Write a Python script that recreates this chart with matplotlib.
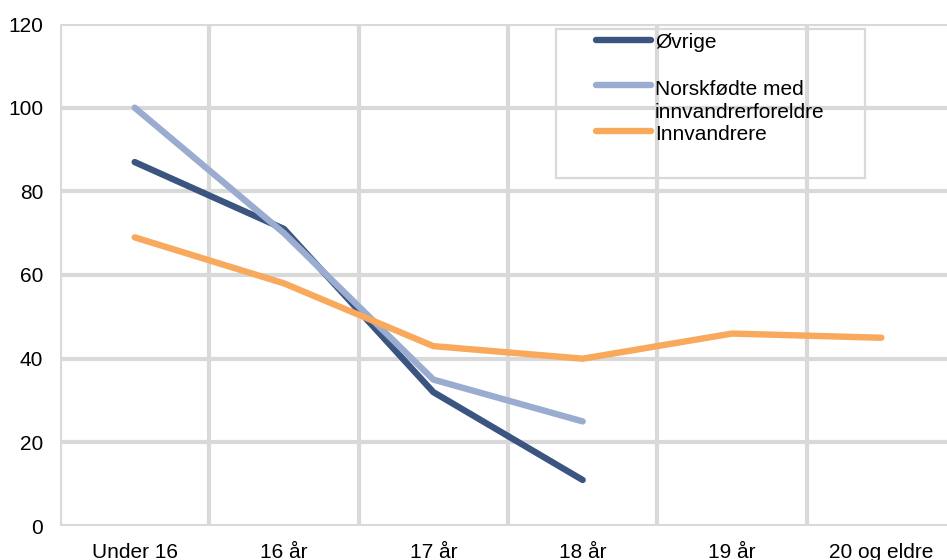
import matplotlib
matplotlib.use("Agg")
import matplotlib.pyplot as plt
from matplotlib.lines import Line2D
from matplotlib.patches import Rectangle

plt.rcParams['font.family'] = ['Liberation Sans', 'DejaVu Sans']

categories = ["Under 16", "16 år", "17 år", "18 år", "19 år", "20 og eldre"]
series_names = ["Øvrige", "Norskfødte med\ninnvandrerforeldre", "Innvandrere"]
ovrige = [87, 71, 32, 11]
norskfodte = [100, 70, 35, 25]
innvandrere = [69, 58, 43, 40, 46, 45]
colors = ["#3c5580", "#9aaccf", "#f8a95c"]
y_ticks = [0, 20, 40, 60, 80, 100, 120]

W, H = 947, 560
fig = plt.figure(figsize=(W / 100, H / 100), dpi=100)
ax = fig.add_axes([60 / W, 1 - 526 / H, (956 - 60) / W, (526 - 24) / H])

grid_color = "#d9d9d9"
series = [ovrige, norskfodte, innvandrere]
for vals, c, name in zip(series, colors, series_names):
    ax.plot(range(len(vals)), vals, color=c, lw=4.6, solid_capstyle='round',
            solid_joinstyle='round', zorder=3, clip_on=False)

ax.set_xlim(-0.5, len(categories) - 0.5)
ax.set_ylim(0, 120)
ax.set_xticks(range(len(categories)))
ax.set_xticklabels(categories)
ax.set_xticks([i - 0.5 for i in range(len(categories) + 1)], minor=True)
ax.set_yticks(y_ticks)
ax.tick_params(axis='both', which='both', length=0, labelsize=15, pad=12)
ax.grid(False)
ax.xaxis.grid(True, which='minor', color=grid_color, lw=3)
ax.yaxis.grid(True, which='major', color=grid_color, lw=3)
ax.set_axisbelow(True)
for s in ax.spines.values():
    s.set_visible(False)

# legend (manual layout to match reference)
fig.patches.append(Rectangle((556 / W, 1 - 178 / H), (865 - 556) / W, (178 - 29) / H,
                             transform=fig.transFigure, fill=False,
                             edgecolor=grid_color, lw=1.6))
handle_y = [40, 85, 131]
text_y = [42, 101, 134]
for name, c, hy, ty in zip(series_names, colors, handle_y, text_y):
    fig.lines.append(Line2D([596 / W, 651 / W], [1 - hy / H, 1 - hy / H],
                            transform=fig.transFigure, color=c, lw=4.6,
                            solid_capstyle='round'))
    fig.text(655 / W, 1 - ty / H, name, fontsize=15, va='center', ha='left',
             linespacing=1.3)

fig.savefig("out.png", dpi=100)
